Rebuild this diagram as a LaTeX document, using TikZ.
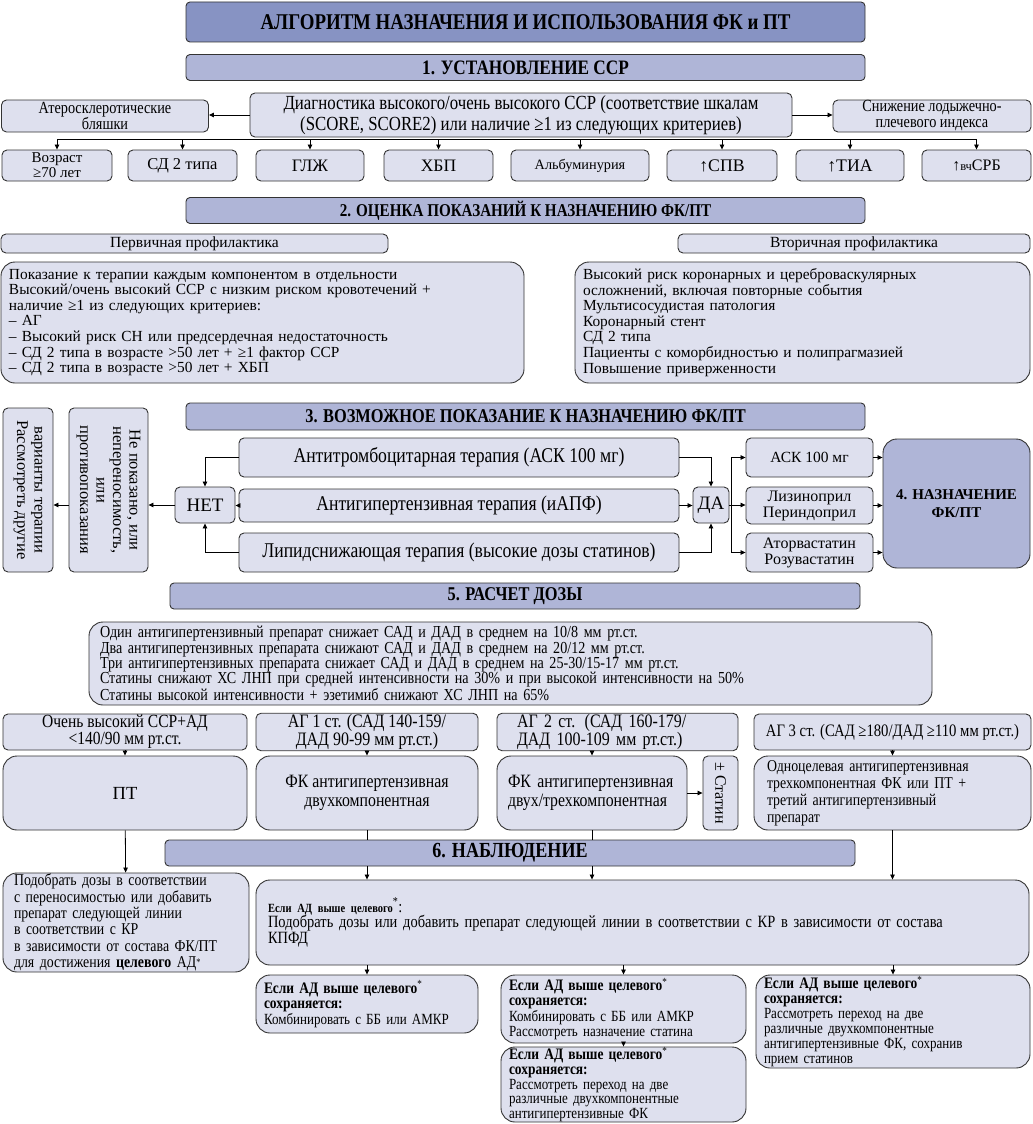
\documentclass[tikz,border=0pt]{standalone}
\usepackage{fontspec}
\setmainfont{Liberation Serif}
\newfontfamily\cond[FakeStretch=0.84]{Liberation Serif}
\usetikzlibrary{arrows.meta,calc}

\definecolor{titlefill}{HTML}{8793C3}
\definecolor{headfill}{HTML}{AFB5D7}
\definecolor{boxfill}{HTML}{DEE0EE}

\begin{document}
\begin{tikzpicture}[x=1pt,y=-1pt,
box/.style={
	% The shape:
	rectangle,rounded corners=5pt,inner sep=3pt,
	% The border:
	draw=black!80,line width=0.9pt,
	% The filling:
	fill=boxfill,
	% Font
	align=center,font=\fontsize{15.5}{15.5}\selectfont},
bigbox/.style={box,rounded corners=14pt},
headbox/.style={box,rounded corners=4pt,fill=headfill,inner ysep=1pt,
	font=\cond\bfseries\fontsize{19.5}{21}\selectfont},
titlebox/.style={headbox,fill=titlefill,
	font=\cond\bfseries\fontsize{22.5}{26}\selectfont},
arr/.style={-{Triangle[length=5pt,width=4.5pt]},line width=0.8pt}]

\useasboundingbox (0,0) rectangle (1033,1124);

%Title and section 1
\node (title) [titlebox,minimum width=679,minimum height=40] at (525.5,22) {АЛГОРИТМ НАЗНАЧЕНИЯ И ИСПОЛЬЗОВАНИЯ ФК и ПТ};
\node (s1) [headbox,minimum width=679,minimum height=26,font=\cond\bfseries\fontsize{20.5}{21}\selectfont] at (525.5,67.5) {1. УСТАНОВЛЕНИЕ ССР};
\node (diag) [box,minimum width=542,minimum height=44,inner ysep=1pt,font=\cond\fontsize{20}{20.5}\selectfont] at (521,115) {Диагностика высокого/очень высокого ССР (соответствие шкалам\\
			(SCORE, SCORE2) или наличие ≥1 из следующих критериев)};
\node (athero) [box,minimum width=207,minimum height=32,inner ysep=0pt,font=\cond\fontsize{17}{16}\selectfont] at (105,116) {Атеросклеротические\\бляшки};
\node (ankle) [box,minimum width=198,minimum height=32,inner ysep=0pt,font=\cond\fontsize{17}{16}\selectfont] at (932,116) {Снижение лодыжечно-\\плечевого индекса};
\node (age) [box,minimum width=110,minimum height=31,inner ysep=0pt,font=\fontsize{15}{15}\selectfont] at (57,165.5) {Возраст\\≥70 лет};
\node (sd) [box,minimum width=109,minimum height=31,font=\fontsize{16.5}{17}\selectfont] at (182.5,165.5) {СД 2 типа};
\node (glzh) [box,minimum width=108,minimum height=31,font=\fontsize{17.5}{17}\selectfont] at (310,165.5) {ГЛЖ};
\node (hbp) [box,minimum width=109,minimum height=31,font=\fontsize{17.5}{17}\selectfont] at (438.5,165.5) {ХБП};
\node (alb) [box,minimum width=138,minimum height=31,font=\fontsize{14.3}{17}\selectfont] at (580,165.5) {Альбуминурия};
\node (spv) [box,minimum width=110,minimum height=31,font=\fontsize{17.7}{17}\selectfont] at (722,165.5) {↑СПВ};
\node (tia) [box,minimum width=108,minimum height=31,font=\fontsize{17.7}{17}\selectfont] at (850,165.5) {↑ТИА};
\node (crb) [box,minimum width=109,minimum height=31,font=\fontsize{16}{17}\selectfont] at (976.5,165.5) {↑{\fontsize{12.5}{13}\selectfont вч}СРБ};

\coordinate (bus) at (0,139);
\draw[arr] (diag.west) -- (diag.west -| athero.east);
\draw[arr] (diag.east) -- (diag.east -| ankle.west);
\draw[line width=0.8pt] (age.north |- bus) -- (crb.north |- bus);
\foreach \n in {age,sd,glzh,hbp,alb,spv,tia,crb}
	\draw[arr] (\n.north |- bus) -- (\n.north);

%Section 2
\node (s2) [headbox,minimum width=679,minimum height=26,font=\cond\bfseries\fontsize{18}{21}\selectfont] at (525.5,210.5) {2. ОЦЕНКА ПОКАЗАНИЙ К НАЗНАЧЕНИЮ ФК/ПТ};
\node (primh) [box,minimum width=387,minimum height=19,inner ysep=0.5pt,font=\fontsize{15.5}{16}\selectfont] at (194.5,243.5) {Первичная профилактика};
\node (sech) [box,minimum width=352,minimum height=19,inner ysep=0.5pt,font=\fontsize{15.5}{16}\selectfont] at (854,243.5) {Вторичная профилактика};
\node (prim) [bigbox,minimum width=523,minimum height=121,text width=507,inner xsep=8pt,align=left,font=\fontsize{15.4}{15.6}\selectfont] at (262.5,322.5) {Показание к терапии каждым компонентом в отдельности\\
			Высокий/очень высокий ССР с низким риском кровотечений +\\
			наличие ≥1 из следующих критериев:\\
			– АГ\\
			– Высокий риск СН или предсердечная недостаточность\\
			– СД 2 типа в возрасте >50 лет + ≥1 фактор ССР\\
			– СД 2 типа в возрасте >50 лет + ХБП};
\node (sec) [bigbox,minimum width=455,minimum height=121,text width=439,inner xsep=8pt,align=left,font=\fontsize{15.4}{15.6}\selectfont] at (802.5,322.5) {Высокий риск коронарных и цереброваскулярных\\
			осложнений, включая повторные события\\
			Мультисосудистая патология\\
			Коронарный стент\\
			СД 2 типа\\
			Пациенты с коморбидностью и полипрагмазией\\
			Повышение приверженности};

%Section 3
\node (s3) [headbox,minimum width=679,minimum height=27] at (525.5,416.5) {3. ВОЗМОЖНОЕ ПОКАЗАНИЕ К НАЗНАЧЕНИЮ ФК/ПТ};
\node (cons) [box,minimum width=164,minimum height=50,rotate=-90,font=\fontsize{16.5}{17.5}\selectfont] at (28,490) {варианты терапии\\Рассмотреть другие};
\node (notind) [box,minimum width=164,minimum height=79,rotate=-90,font=\fontsize{16.5}{16.5}\selectfont] at (108.5,490) {Не показано, или\\непереносимость,\\или\\противопоказания};
\node (anti) [box,minimum width=440,minimum height=39,font=\cond\fontsize{21}{21}\selectfont] at (459,457.5) {Антитромбоцитарная терапия (АСК 100 мг)};
\node (hyp) [box,minimum width=440,minimum height=33,font=\cond\fontsize{21}{21}\selectfont] at (459,505.5) {Антигипертензивная терапия (иАПФ)};
\node (lip) [box,minimum width=440,minimum height=39,font=\cond\fontsize{21}{21}\selectfont] at (459,552.5) {Липидснижающая терапия (высокие дозы статинов)};
\node (net) [box,minimum width=60,minimum height=36,font=\fontsize{19}{19}\selectfont] at (205,505) {НЕТ};
\node (da) [box,minimum width=36,minimum height=36,inner xsep=1pt,font=\fontsize{19}{19}\selectfont] at (711,505) {ДА};
\node (ask) [box,minimum width=127,minimum height=39] at (809.5,457.5) {АСК 100 мг};
\node (lis) [box,minimum width=127,minimum height=37,inner ysep=1pt,font=\fontsize{16}{16}\selectfont] at (809.5,505.5) {Лизиноприл\\Периндоприл};
\node (ator) [box,minimum width=127,minimum height=39,inner ysep=1pt,font=\fontsize{16}{16}\selectfont] at (809.5,552.5) {Аторвастатин\\Розувастатин};
\node (nazn) [bigbox,fill=headfill,minimum width=147,minimum height=129,font=\bfseries\fontsize{15}{18}\selectfont] at (956.5,503.5) {4. НАЗНАЧЕНИЕ\\ФК/ПТ};

\draw[arr] (anti.west) -| (net.north);
\draw[arr] (lip.west) -| (net.south);
\draw[arr] (hyp.west) -- (hyp.west -| net.east);
\draw[arr] (net.west) -- (net.west -| notind.north);
\draw[arr] (net.west -| notind.south) -- (net.west -| cons.north);
\draw[arr] (anti.east) -| (da.north);
\draw[arr] (lip.east) -| (da.south);
\draw[arr] (hyp.east) -- (hyp.east -| da.west);
\coordinate (dsplit) at ($(da.east)+(1.5,0)$);
\draw[arr] (da.east) -- (dsplit) |- (ask.west);
\draw[arr] (da.east) -- (dsplit) |- (ator.west);
\draw[arr] (da.east) -- (da.east -| lis.west);
\draw[arr] (ask.east) -- (ask.east -| nazn.west);
\draw[arr] (lis.east) -- (lis.east -| nazn.west);
\draw[arr] (ator.east) -- (ator.east -| nazn.west);

%Section 5
\node (s5) [headbox,minimum width=690,minimum height=26] at (515,596) {5. РАСЧЕТ ДОЗЫ};
\node (dose) [bigbox,minimum width=843,minimum height=83,text width=821,inner xsep=11pt,align=left,font=\cond\fontsize{16.8}{15.4}\selectfont] at (510.5,663.5) {Один антигипертензивный препарат снижает САД и ДАД в среднем на 10/8 мм рт.ст.\\
			Два антигипертензивных препарата снижают САД и ДАД в среднем на 20/12 мм рт.ст.\\
			Три антигипертензивных препарата снижает САД и ДАД в среднем на 25-30/15-17 мм рт.ст.\\
			Статины снижают ХС ЛНП при средней интенсивности на 30\% и при высокой интенсивности на 50\%\\
			Статины высокой интенсивности + эзетимиб снижают ХС ЛНП на 65\%};

\node (h1) [box,minimum width=244,minimum height=36,inner ysep=1pt,font=\cond\fontsize{18.5}{17}\selectfont] at (125,732) {Очень высокий ССР+АД\\<140/90 мм рт.ст.};
\node (h2) [box,minimum width=222,minimum height=36,inner ysep=1pt,font=\cond\fontsize{19}{17}\selectfont] at (367,732) {АГ 1 ст. (САД 140-159/\\ДАД 90-99 мм рт.ст.)};
\node (h3) [box,minimum width=241,minimum height=36,inner ysep=1pt,text width=201,inner xsep=20pt,align=left,font=\cond\fontsize{19}{17}\selectfont] at (617.5,732) {АГ 2 ст. (САД 160-179/\\ДАД 100-109 мм рт.ст.)};
\node (h4) [box,minimum width=277,minimum height=36,font=\cond\fontsize{17.5}{17}\selectfont] at (892.5,732) {АГ 3 ст. (САД ≥180/ДАД ≥110 мм рт.ст.)};
\node (pt) [bigbox,minimum width=244,minimum height=74,font=\fontsize{18.5}{20}\selectfont] at (125,793) {ПТ};
\node (fk2) [bigbox,minimum width=222,minimum height=74,font=\cond\fontsize{18.8}{19}\selectfont] at (367,793) {ФК антигипертензивная\\двухкомпонентная};
\node (fk3) [bigbox,minimum width=190,minimum height=74,text width=168,inner xsep=11pt,align=left,font=\cond\fontsize{18.8}{19}\selectfont] at (592,793) {ФК антигипертензивная\\двух/трехкомпонентная};
\node (stat) [box,minimum width=74,minimum height=35,rotate=-90,font=\fontsize{16}{16}\selectfont] at (720.5,793) {± Статин};
\node (fk4) [bigbox,minimum width=277,minimum height=74,text width=251,inner xsep=13pt,align=left,font=\cond\fontsize{16.5}{17}\selectfont] at (892.5,793) {Одноцелевая антигипертензивная\\
			трехкомпонентная ФК или ПТ +\\
			третий антигипертензивный\\
			препарат};

\draw[arr] (h1) -- (pt);
\draw[arr] (h2) -- (fk2);
\draw[arr] (h3.south -| fk3.north) -- (fk3.north);
\draw[arr] (h4) -- (fk4);
\draw[arr] (fk3.east) -- (fk3.east -| stat.south);

%Section 6
\node (s6) [headbox,minimum width=690,minimum height=26,font=\cond\bfseries\fontsize{21.5}{21}\selectfont] at (510,853) {6. НАБЛЮДЕНИЕ};
\node (pod) [bigbox,minimum width=246,minimum height=99,text width=224,inner xsep=11pt,inner ysep=0pt,align=left,font=\cond\fontsize{16.5}{16.3}\selectfont] at (126,922.5) {Подобрать дозы в соответствии\\
			с переносимостью или добавить\\
			препарат следующей линии\\
			в соответствии с КР\\
			в зависимости от состава ФК/ПТ\\
			для достижения \textbf{целевого} АД{\fontsize{10}{10}\selectfont\raisebox{0.45ex}{*}}};
\node (big) [bigbox,minimum width=773,minimum height=85,text width=749,inner xsep=12pt,align=left,font=\cond\fontsize{17.2}{15.5}\selectfont] at (642.5,922.5) {\textbf{\fontsize{12.5}{15}\selectfont Если АД выше целевого}\textsuperscript{*}:\\
			Подобрать дозы или добавить препарат следующей линии в соответствии с КР в зависимости от состава\\
			КПФД};
\node (ra) [bigbox,minimum width=222,minimum height=58,text width=206,inner xsep=8pt,inner ysep=0.5pt,align=left,font=\cond\fontsize{15.5}{15.5}\selectfont] at (367,1004) {\textbf{\fontsize{16}{15}\selectfont Если АД выше целевого}\textsuperscript{*}\\
			\textbf{\fontsize{16}{15}\selectfont сохраняется:}\\
			Комбинировать с ББ или АМКР};
\node (rb) [bigbox,minimum width=245,minimum height=68,text width=229,inner xsep=8pt,inner ysep=0.5pt,align=left,font=\cond\fontsize{15.5}{15.2}\selectfont] at (623.5,1009) {\textbf{\fontsize{16}{15}\selectfont Если АД выше целевого}\textsuperscript{*}\\
			\textbf{\fontsize{16}{15}\selectfont сохраняется:}\\
			Комбинировать с ББ или АМКР\\
			Рассмотреть назначение статина};
\node (rc) [bigbox,minimum width=274,minimum height=93,text width=258,inner xsep=8pt,inner ysep=0.5pt,align=left,font=\cond\fontsize{15.5}{15}\selectfont] at (893,1021.5) {\textbf{\fontsize{16}{15}\selectfont Если АД выше целевого}\textsuperscript{*}\\
			\textbf{\fontsize{16}{15}\selectfont сохраняется:}\\
			Рассмотреть переход на две\\
			различные двухкомпонентные\\
			антигипертензивные ФК, сохранив\\
			прием статинов};
\node (rd) [bigbox,minimum width=245,minimum height=75,text width=229,inner xsep=8pt,inner ysep=0pt,align=left,font=\cond\fontsize{15.5}{14.8}\selectfont] at (623.5,1084.5) {\textbf{\fontsize{16}{15}\selectfont Если АД выше целевого}\textsuperscript{*}\\
			\textbf{\fontsize{16}{15}\selectfont сохраняется:}\\
			Рассмотреть переход на две\\
			различные двухкомпонентные\\
			антигипертензивные ФК};

\draw[arr] (pt) -- (pod);
\draw[line width=0.8pt] (fk2.south) -- (fk2.south |- s6.north);
\draw[line width=0.8pt] (fk3.south) -- (fk3.south |- s6.north);
\draw[arr] (s6.south -| fk2) -- (big.north -| fk2);
\draw[arr] (s6.south -| fk3) -- (big.north -| fk3);
\draw[arr] (fk4.south) -- (big.north -| fk4);
\draw[arr] (big.south -| ra) -- (ra.north);
\draw[arr] (big.south -| rb) -- (rb.north);
\draw[arr] (big.south -| rc) -- (rc.north);
\draw[arr] (rb) -- (rd);

\end{tikzpicture}
\end{document}
